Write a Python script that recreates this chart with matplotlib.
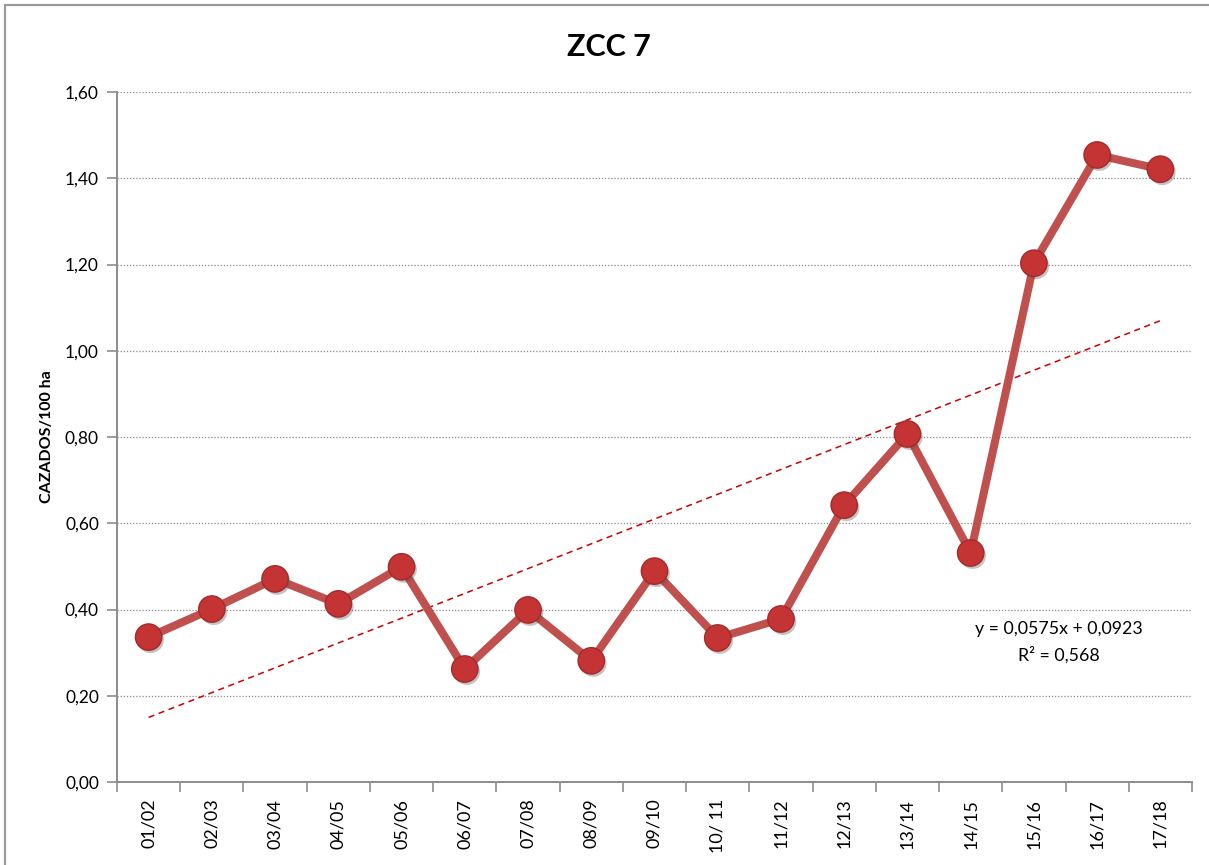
import matplotlib
matplotlib.use("Agg")
import matplotlib.pyplot as plt
import matplotlib.patheffects as pe
from matplotlib.patches import Rectangle
import numpy as np

seasons = ["01/02", "02/03", "03/04", "04/05", "05/06", "06/07", "07/08", "08/09",
           "09/10", "10/ 11", "11/12", "12/13", "13/14", "14/15", "15/16", "16/17", "17/18"]
cazados = [0.336, 0.401, 0.471, 0.413, 0.499, 0.262, 0.399, 0.281,
           0.489, 0.334, 0.378, 0.642, 0.807, 0.531, 1.203, 1.454, 1.421]
trend_slope = 0.0575
trend_intercept = 0.0923
trend_r2 = 0.568
y_ticks = [0.0, 0.2, 0.4, 0.6, 0.8, 1.0, 1.2, 1.4, 1.6]

plt.rcParams["font.family"] = ["Lato", "DejaVu Sans"]

fig = plt.figure(figsize=(12.09, 8.65), dpi=100)
ax = fig.add_axes([117 / 1209, 83 / 865, 1075 / 1209, 690 / 865])

# outer chart frame
fig.patches.append(Rectangle((5 / 1209, -0.02), 1.1, (865 - 5) / 865 + 0.02,
                             transform=fig.transFigure, fill=False,
                             edgecolor="#9a9a9a", linewidth=1.6, zorder=0))

x = np.arange(len(seasons))

# series line
ax.plot(x, cazados, color="#C0504D", linewidth=5.8, zorder=3, solid_capstyle="round")
# markers with soft shadow
ax.scatter(x, cazados, s=360, color="#C43434", edgecolor="#A52A2A", linewidth=1.0,
           zorder=4,
           path_effects=[pe.SimplePatchShadow(offset=(1.5, -2.0), shadow_rgbFace="#555555",
                                              alpha=0.35), pe.Normal()])

# linear trend line
xt = np.array([x[0], x[-1]])
yt = trend_slope * (xt + 1) + trend_intercept
ax.plot(xt, yt, color="#CC0000", linewidth=1.1, linestyle=(0, (4, 3)), zorder=2)

ax.text(14.4, 0.355, "y = 0,0575x + 0,0923", ha="center", va="center", fontsize=12.8)
ax.text(14.4, 0.295, "R² = 0,568", ha="center", va="center", fontsize=12.8)

ax.set_xlim(-0.5, len(seasons) - 0.5)
ax.set_ylim(0, 1.6)
ax.set_yticks(y_ticks)
ax.set_yticklabels([f"{v:.2f}".replace(".", ",") for v in y_ticks], fontsize=12.5)
ax.set_xticks(x)
ax.set_xticklabels(seasons, rotation=90, fontsize=13)
ax.set_xticks(np.arange(-0.5, len(seasons)), minor=True)
ax.tick_params(axis="x", which="major", length=0, pad=12)
ax.tick_params(axis="x", which="minor", length=7, width=1.2, color="#8c8c8c", direction="out")
ax.tick_params(axis="y", length=7, width=1.2, color="#8c8c8c", direction="out", pad=6)

ax.grid(axis="y", color="#8c8c8c", linestyle=(0, (1, 1.5)), linewidth=0.9)
ax.set_axisbelow(True)
for side in ["top", "right"]:
    ax.spines[side].set_visible(False)
for side in ["left", "bottom"]:
    ax.spines[side].set_color("#8c8c8c")
    ax.spines[side].set_linewidth(1.4)

ax.set_ylabel("CAZADOS/100 ha", fontsize=11.5, fontweight="bold", labelpad=8)
fig.text(609 / 1209, 1 - 47 / 865, "ZCC 7", ha="center", va="center",
         fontsize=22, fontweight="bold")

fig.savefig("out.png", dpi=100)
